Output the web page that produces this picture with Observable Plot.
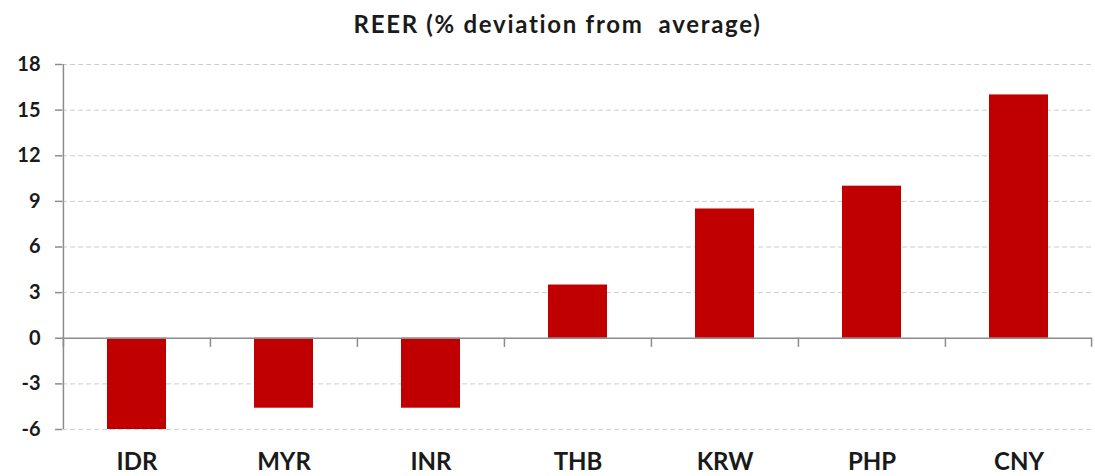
<!DOCTYPE html>
<html>
<head>
<meta charset="utf-8">
<script src="https://cdn.jsdelivr.net/npm/d3@7"></script>
<script src="https://cdn.jsdelivr.net/npm/@observablehq/plot@0.6"></script>
<style>
  html, body { margin: 0; padding: 0; background: #fff; }
  #title { height: 48px; width: 1095px; text-align: center; font-family: Lato, "Open Sans", sans-serif; font-weight: bold; font-size: 24px; letter-spacing: 1.7px; line-height: 47px; color: #1a1a1a; padding-left: 20px; box-sizing: border-box; white-space: pre; }
</style>
</head>
<body>
<div id="title">REER (% deviation from  average)</div>
<div id="chart"></div>
<script>
const categories = ["IDR", "MYR", "INR", "THB", "KRW", "PHP", "CNY"];
const values = [-6.0, -4.6, -4.6, 3.5, 8.5, 10.0, 16.0];
const yTicks = [-6, -3, 0, 3, 6, 9, 12, 15, 18];

const data = categories.map((c, i) => ({cat: c, value: values[i]}));

const width = 1095, height = 428;
const marginLeft = 62, marginRight = 3, marginTop = 16, marginBottom = 47;
const step = (width - marginLeft - marginRight) / categories.length;
const font = "Lato, 'Open Sans', sans-serif";

const chart = Plot.plot({
  width, height, marginLeft, marginRight, marginTop, marginBottom,
  style: {fontFamily: font, background: "#fff"},
  x: {type: "band", domain: categories, paddingInner: 0.6, paddingOuter: 0.3, axis: null},
  y: {domain: [-6, 18], axis: null},
  marks: [
    Plot.ruleY(yTicks.filter(d => d !== 0), {stroke: "#cfcfcf", strokeWidth: 1, strokeDasharray: "5,3"}),
    Plot.barY(data, {x: "cat", y: "value", fill: "#C00000"}),
    Plot.ruleY([0], {stroke: "#8c8c8c", strokeWidth: 1.5}),
    Plot.ruleX(categories, {x: d => d, y1: 0, y2: -0.6, dx: -step / 2, stroke: "#8c8c8c", strokeWidth: 1.5}),
    Plot.ruleX([categories[categories.length - 1]], {x: d => d, y1: 0, y2: -0.6, dx: step / 2 - 1, stroke: "#8c8c8c", strokeWidth: 1.5}),
    Plot.ruleX([categories[0]], {x: d => d, y1: -6, y2: 18, dx: -step / 2, stroke: "#8c8c8c", strokeWidth: 1.5}),
    Plot.axisY({ticks: yTicks, tickSize: 7, tickPadding: 15, stroke: "#8c8c8c", strokeWidth: 1.5, fontSize: 20, fontWeight: "bold", fill: "#1a1a1a", label: null, tickFormat: d => String(d)}),
    Plot.axisX({tickSize: 0, tickPadding: 23, fontSize: 24, fontWeight: "bold", fill: "#1a1a1a", label: null})
  ]
});
document.getElementById("chart").appendChild(chart);
</script>
</body>
</html>
